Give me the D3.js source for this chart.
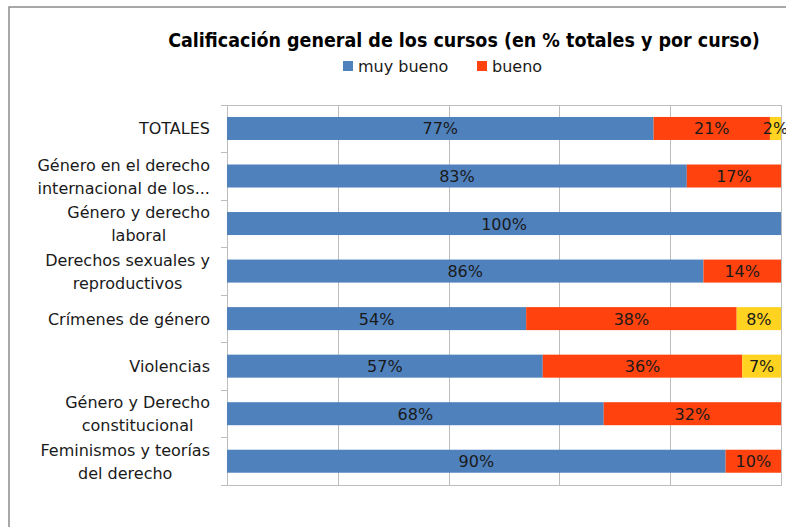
<!DOCTYPE html>
<html>
<head>
<meta charset="utf-8">
<script src="https://cdn.jsdelivr.net/npm/d3@7"></script>
<style>
	body { margin: 0; background: #fff; }
	svg { display: block; }
	.axis path, .axis line { stroke: #bdbdbd; shape-rendering: crispEdges; }
</style>
</head>
<body>
<div id="bar_chart"></div>
<script>
// data
var categories = [
	["TOTALES"],
	["Género en el derecho", "internacional de los..."],
	["Género y derecho", "laboral"],
	["Derechos sexuales y", "reproductivos"],
	["Crímenes de género"],
	["Violencias"],
	["Género y Derecho", "constitucional"],
	["Feminismos y teorías", "del derecho"]
];
var seriesNames = ["muy bueno", "bueno", "regular"];
var muyBueno = [77, 83, 100, 86, 54, 57, 68, 90];
var bueno = [21, 17, 0, 14, 38, 36, 32, 10];
var regular = [2, 0, 0, 0, 8, 7, 0, 0];
var xTicks = [0, 20, 40, 60, 80, 100];
var chartTitle = "Calificación general de los cursos (en % totales y por curso)";

var width = 786, height = 527;
var colors = ["#4f81bd", "#ff420e", "#ffd320"];
var plot = {left: 227, right: 781, top: 104.7, bottom: 485};
var fontFam = "'DejaVu Sans', sans-serif";

var svg = d3.select("#bar_chart").append("svg")
	.attr("width", width)
	.attr("height", height);

// chart frame
svg.append("rect")
	.attr("x", 9).attr("y", 7)
	.attr("width", 900).attr("height", 600)
	.attr("fill", "#fff")
	.attr("stroke", "#8c8c8c")
	.attr("stroke-width", 1.5);

// title, condensed bold, sized to the reference width
var title = svg.append("text")
	.attr("x", 464).attr("y", 47)
	.attr("text-anchor", "middle")
	.style("font-family", "'DejaVu Sans Condensed', 'DejaVu Sans', sans-serif")
	.style("font-weight", "bold")
	.style("font-size", "19px")
	.attr("fill", "#000")
	.text(chartTitle);
var tw = title.node().getComputedTextLength();
title.style("font-size", Math.min(20, 19 * 592 / tw) + "px");

// legend (only the first two entries are visible in the reference)
var legendX = [343, 477];
seriesNames.slice(0, 2).forEach(function(name, i) {
	var lg = svg.append("g").attr("transform", "translate(" + legendX[i] + ",61)");
	lg.append("rect").attr("width", 10).attr("height", 10).attr("fill", colors[i]);
	lg.append("text")
		.attr("x", 15).attr("y", 11)
		.style("font-family", fontFam)
		.style("font-size", "16px")
		.attr("fill", "#1a1a1a")
		.text(name);
});

var x = d3.scaleLinear()
	.domain([0, 100])
	.range([plot.left, plot.right]);

var y = d3.scaleBand()
	.domain(d3.range(categories.length))
	.range([plot.top, plot.bottom])
	.paddingInner(0.516)
	.paddingOuter(0.258);

var yEdge = d3.scaleLinear()
	.domain([0, categories.length])
	.range([plot.top, plot.bottom]);

// vertical gridlines
svg.append("g")
	.attr("class", "axis")
	.attr("transform", "translate(0," + plot.bottom + ")")
	.call(d3.axisBottom(x).tickValues(xTicks).tickSize(-(plot.bottom - plot.top)).tickSizeOuter(0).tickFormat(""));

// value axis on top (labels hidden)
svg.append("g")
	.attr("class", "axis")
	.attr("transform", "translate(0," + plot.top + ")")
	.call(d3.axisTop(x).tickValues(xTicks).tickSize(0).tickFormat(""));

// category axis with boundary ticks
svg.append("g")
	.attr("class", "axis")
	.attr("transform", "translate(" + plot.left + ",0)")
	.call(d3.axisLeft(yEdge).tickValues(d3.range(categories.length + 1)).tickSize(6).tickSizeOuter(0).tickFormat(""));

// stacked data
var rows = categories.map(function(c, i) {
	return {idx: i, values: [muyBueno[i], bueno[i], regular[i]]};
});
var stack = d3.stack().keys([0, 1, 2]).value(function(d, k) { return d.values[k]; });
var layers = stack(rows);

var layer = svg.selectAll("g.layer")
	.data(layers)
	.enter().append("g")
	.attr("class", "layer")
	.attr("fill", function(d, i) { return colors[i]; });

layer.selectAll("rect")
	.data(function(d) { return d.filter(function(s) { return s[1] > s[0]; }); })
	.enter().append("rect")
	.attr("x", function(s) { return x(s[0]); })
	.attr("y", function(s) { return y(s.data.idx); })
	.attr("width", function(s) { return x(s[1]) - x(s[0]); })
	.attr("height", y.bandwidth());

// data labels
layer.selectAll("text")
	.data(function(d) { return d.filter(function(s) { return s[1] > s[0]; }); })
	.enter().append("text")
	.attr("x", function(s) { return (x(s[0]) + x(s[1])) / 2; })
	.attr("y", function(s) { return y(s.data.idx) + y.bandwidth() / 2 + 6; })
	.attr("text-anchor", "middle")
	.style("font-family", fontFam)
	.style("font-size", "16px")
	.attr("fill", "#1a1a1a")
	.text(function(s) { return (s[1] - s[0]) + "%"; });

// category labels, lines centred on each other, block right-aligned
var labelRight = 210, lineH = 23;
categories.forEach(function(lines, i) {
	var cy = y(i) + y.bandwidth() / 2;
	var t = svg.append("text")
		.style("font-family", fontFam)
		.style("font-size", "16px")
		.attr("fill", "#1a1a1a")
		.attr("text-anchor", "middle");
	var spans = lines.map(function(line, k) {
		return t.append("tspan")
			.attr("y", cy + 6 + (k - (lines.length - 1) / 2) * lineH)
			.text(line);
	});
	var maxW = d3.max(spans, function(s) { return s.node().getComputedTextLength(); });
	spans.forEach(function(s) { s.attr("x", labelRight - maxW / 2); });
});
</script>
</body>
</html>
